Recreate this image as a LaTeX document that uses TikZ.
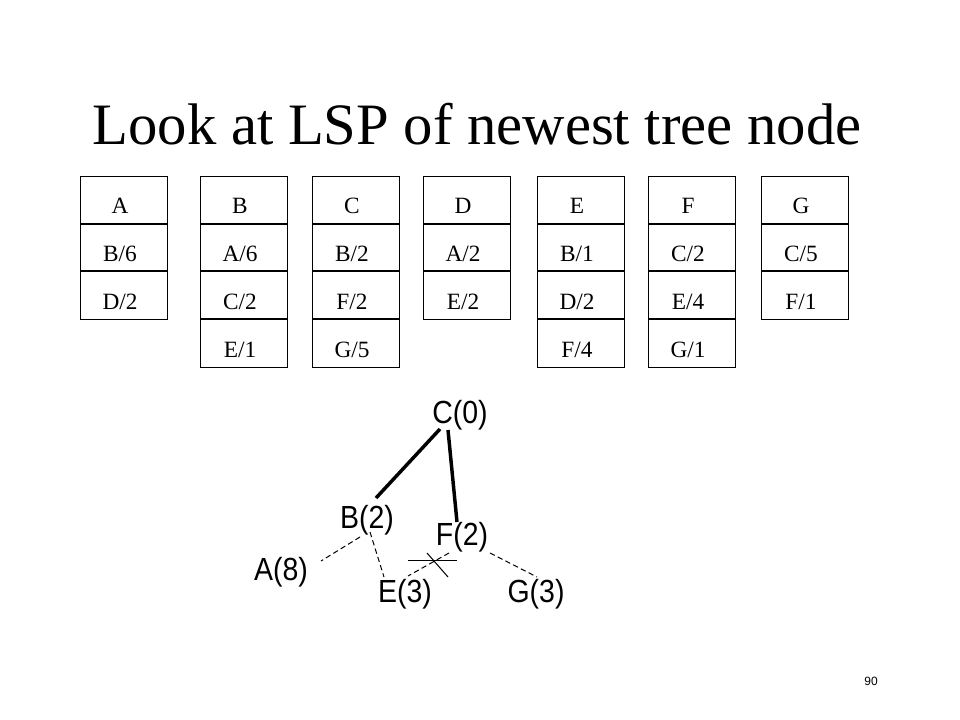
\documentclass[tikz,border=0pt]{standalone}
\usepackage{fontspec}
\setmainfont{Liberation Serif}
\newfontfamily\arialfont{Liberation Sans}
\usetikzlibrary{calc}
\newcommand{\narrowtxt}[1]{\scalebox{0.89}[1]{#1}}
\begin{document}
\begin{tikzpicture}[x=0.75pt,y=-0.75pt,
  cell/.style={draw,line width=0.75pt,minimum width=65.25pt,minimum height=35.8pt,inner sep=0pt,anchor=north west},
  celltext/.style={anchor=base,inner sep=0pt,font=\fontsize{17.5}{20}\selectfont},
  sep/.style={line width=1.5pt},
  treetext/.style={anchor=base,inner sep=0pt,font=\arialfont\fontsize{24}{28}\selectfont},
  treeedge/.style={line width=2.6pt},
  candedge/.style={line width=0.75pt,dash pattern=on 4pt off 2.5pt},
  crossline/.style={line width=0.75pt}]
\useasboundingbox[fill=white] (0,0) rectangle (960,720);
\node[anchor=base,inner sep=0pt,font=\fontsize{44}{50}\selectfont] (title) at (477,145) {Look at LSP of newest tree node};
% LSP tables
\foreach \col/\xl/\entries in {A/80/{A,B/6,D/2},B/200/{B,A/6,C/2,E/1},C/312/{C,B/2,F/2,G/5},D/423/{D,A/2,E/2},E/537/{E,B/1,D/2,F/4},F/648/{F,C/2,E/4,G/1},G/761/{G,C/5,F/1}}{
  \foreach \t [count=\i from 0] in \entries {
    \node[cell] (\col\i) at (\xl,176+47.7*\i) {};
    \node[celltext] (\col\i t) at ($(\col\i.north)+(-4,38)$) {\t};
    \ifnum\i>0
      \draw[sep] (\col\i.north west) -- (\col\i.north east);
    \fi
  }
}
% tree
\node[treetext] (C) at (460,423) {\narrowtxt{C(0)}};
\node[treetext] (B) at (367,528) {\narrowtxt{B(2)}};
\node[treetext] (F) at (462,545) {\narrowtxt{F(2)}};
\node[treetext] (A) at (281,580) {\narrowtxt{A(8)}};
\node[treetext] (E) at (405,602) {\narrowtxt{E(3)}};
\node[treetext] (G) at (536,602) {\narrowtxt{G(3)}};
\draw[treeedge] ($(C.base)+(-20,6)$) -- ($(B.base)+(9,-30)$);
\draw[treeedge] ($(C.base)+(-12,7)$) -- ($(F.base)+(-5,-23)$);
\draw[candedge] ($(B.base)+(-7,9)$) -- ($(A.base)+(40,-19)$);
\draw[candedge] ($(B.base)+(3,4)$) -- ($(E.base)+(-21,-25)$);
\draw[candedge] ($(F.base)+(-13,8)$) -- ($(E.base)+(3,-26)$);
\draw[candedge] ($(F.base)+(28,8)$) -- ($(G.base)+(1,-25)$);
\coordinate (x1) at (408,560);
\coordinate (x2) at (457,560);
\coordinate (x3) at (427,553);
\coordinate (x4) at (448,577);
\draw[crossline] (x1) -- (x2);
\draw[crossline] (x3) -- (x4);
\node[anchor=base,inner sep=0pt,font=\arialfont\fontsize{9}{11}\selectfont] (page) at (871,685) {90};
\end{tikzpicture}
\end{document}
